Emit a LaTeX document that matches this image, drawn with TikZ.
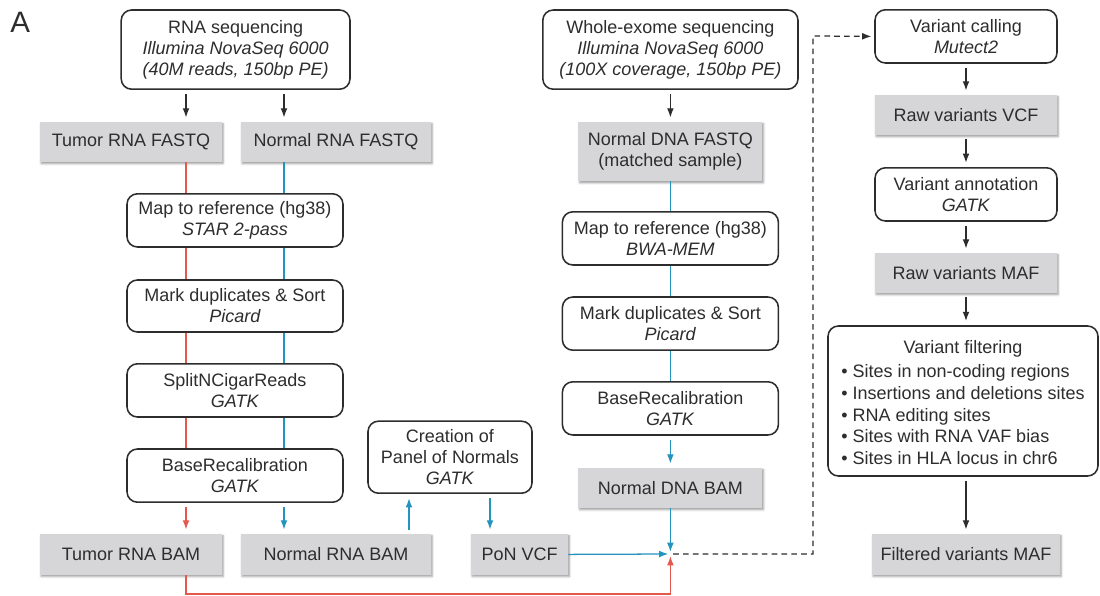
\documentclass[tikz,border=0pt]{standalone}
\usepackage{fontspec}
\setmainfont{Liberation Sans}
\usetikzlibrary{positioning,arrows.meta,shadows.blur}
\definecolor{ink}{RGB}{45,45,45}
\definecolor{boxgray}{RGB}{214,214,217}
\definecolor{tumorred}{RGB}{229,88,78}
\definecolor{normalblue}{RGB}{36,148,190}

\begin{document}
\begin{tikzpicture}[every node/.style={font=\fontsize{12.8}{15}\selectfont, text=ink},
  tool/.style={draw=ink, line width=1.1pt, rounded corners=0.26cm, fill=white, align=center, inner sep=0pt},
  file/.style={fill=boxgray, align=center, inner sep=0pt, blur shadow={shadow xshift=0.8pt, shadow yshift=-1.2pt, shadow blur radius=1.5pt, shadow opacity=40}},
  link/.style={line width=0.9pt},
  arr/.style={link, -{Latex[length=2.3mm,width=1.7mm]}, shorten <=3pt, shorten >=3pt},
  tumor/.style={link, tumorred},
  normal/.style={link, normalblue}]
  \useasboundingbox (0,0) rectangle (27.5,-14.9);
  \node[anchor=base west, inner sep=0pt, font=\fontsize{21}{21}\selectfont] (lab) at (0.25,-0.825) {A};

  % RNA-seq branch
  \node[tool, minimum width=5.72cm, minimum height=1.98cm] (rseq) at (5.89,-1.24) {RNA sequencing\\\textit{Illumina NovaSeq 6000}\\\textit{(40M reads, 150bp PE)}};
  \node[file, minimum width=4.55cm, minimum height=1.0cm] (tfq) at (3.275,-3.55) {Tumor RNA FASTQ};
  \node[file, minimum width=4.75cm, minimum height=1.0cm] (nfq) at (8.4,-3.55) {Normal RNA FASTQ};
  \node[tool, minimum width=5.4cm, minimum height=1.33cm] (map1) at (5.875,-5.51) {Map to reference (hg38)\\\textit{STAR 2-pass}};
  \node[tool, minimum width=5.4cm, minimum height=1.3cm] (dup1) at (5.875,-7.65) {Mark duplicates \& Sort\\\textit{Picard}};
  \node[tool, minimum width=5.4cm, minimum height=1.33cm] (split) at (5.875,-9.76) {SplitNCigarReads\\\textit{GATK}};
  \node[tool, minimum width=5.4cm, minimum height=1.33cm] (bqsr1) at (5.875,-11.89) {BaseRecalibration\\\textit{GATK}};
  \node[tool, minimum width=4.1cm, minimum height=1.8cm] (pon) at (11.25,-11.43) {Creation of\\Panel of Normals\\\textit{GATK}};
  \node[file, minimum width=4.55cm, minimum height=1.02cm] (tbam) at (3.275,-13.86) {Tumor RNA BAM};
  \node[file, minimum width=4.75cm, minimum height=1.02cm] (nbam) at (8.4,-13.86) {Normal RNA BAM};
  \node[file, minimum width=2.43cm, minimum height=1.02cm] (ponvcf) at (12.99,-13.86) {PoN VCF};

  % WES branch
  \node[tool, minimum width=6.38cm, minimum height=1.98cm] (wes) at (16.76,-1.24) {Whole-exome sequencing\\\textit{Illumina NovaSeq 6000}\\\textit{(100X coverage, 150bp PE)}};
  \node[file, minimum width=4.6cm, minimum height=1.48cm] (dfq) at (16.76,-3.79) {Normal DNA FASTQ\\(matched sample)};
  \node[tool, minimum width=5.4cm, minimum height=1.33cm] (map2) at (16.76,-5.96) {Map to reference (hg38)\\\textit{BWA-MEM}};
  \node[tool, minimum width=5.4cm, minimum height=1.33cm] (dup2) at (16.76,-8.09) {Mark duplicates \& Sort\\\textit{Picard}};
  \node[tool, minimum width=5.4cm, minimum height=1.33cm] (bqsr2) at (16.76,-10.21) {BaseRecalibration\\\textit{GATK}};
  \node[file, minimum width=4.6cm, minimum height=1.0cm] (dbam) at (16.76,-12.2) {Normal DNA BAM};

  % variant calling
  \node[tool, minimum width=4.55cm, minimum height=1.33cm] (vcall) at (24.15,-0.91) {Variant calling\\\textit{Mutect2}};
  \node[file, minimum width=4.55cm, minimum height=1.0cm] (rvcf) at (24.15,-2.875) {Raw variants VCF};
  \node[tool, minimum width=4.55cm, minimum height=1.33cm] (vann) at (24.15,-4.86) {Variant annotation\\\textit{GATK}};
  \node[file, minimum width=4.55cm, minimum height=1.0cm] (rmaf) at (24.15,-6.825) {Raw variants MAF};
  \node[tool, minimum width=6.75cm, minimum height=3.75cm, font=\fontsize{12.8}{15.6}\selectfont] (vfilt) at (24.075,-10.025) {\raisebox{-2.6pt}[\height][\depth]{%
    \begin{tabular}{@{}l@{}}\multicolumn{1}{@{}c@{}}{Variant filtering}\\[1.5pt]• Sites in non-coding regions\\• Insertions and deletions sites\\• RNA editing sites\\• Sites with RNA VAF bias\\• Sites in HLA locus in chr6\end{tabular}}};
  \node[file, minimum width=4.7cm, minimum height=1.02cm] (fmaf) at (24.15,-13.86) {Filtered variants MAF};

  \coordinate (rx) at (4.65,0);
  \coordinate (bx) at (7.1,0);
  \coordinate (ux) at (10.225,0);
  \coordinate (dx) at (12.25,0);
  \coordinate (jn) at (16.76,-13.85);
  \coordinate (rb) at (16.76,-14.85);
  \coordinate (dc) at (20.325,-0.9);

  \draw[arr, ink] (rseq.south -| rx) -- (tfq.north -| rx); \draw[arr, ink] (rseq.south -| bx) -- (nfq.north -| bx);
  \draw[tumor] (tfq.south -| rx) -- (map1.north -| rx); \draw[normal] (nfq.south -| bx) -- (map1.north -| bx);
  \draw[tumor] (map1.south -| rx) -- (dup1.north -| rx); \draw[normal] (map1.south -| bx) -- (dup1.north -| bx);
  \draw[tumor] (dup1.south -| rx) -- (split.north -| rx); \draw[normal] (dup1.south -| bx) -- (split.north -| bx);
  \draw[tumor] (split.south -| rx) -- (bqsr1.north -| rx); \draw[normal] (split.south -| bx) -- (bqsr1.north -| bx);
  \draw[arr, tumor] (bqsr1.south -| rx) -- (tbam.north -| rx); \draw[arr, normal] (bqsr1.south -| bx) -- (nbam.north -| bx);
  \draw[arr, normal] (nbam.north -| ux) -- (pon.south -| ux); \draw[arr, normal] (pon.south -| dx) -- (ponvcf.north -| dx);

  \draw[arr, ink] (wes) -- (dfq);
  \draw[normal] (dfq) -- (map2); \draw[normal] (map2) -- (dup2); \draw[normal] (dup2) -- (bqsr2);
  \draw[arr, normal] (bqsr2) -- (dbam);
  \draw[arr, normal, shorten <=0pt, shorten >=1.5pt] (dbam) -- (jn);
  \draw[arr, normal, shorten <=0pt, shorten >=1.5pt] (ponvcf.east) -- (jn);
  \draw[arr, tumor, shorten <=0pt, shorten >=1.5pt] (tbam.south -| rx) |- (rb) -- (jn);

  \draw[arr, ink, dash pattern=on 4pt off 3pt, shorten <=2pt, shorten >=2pt] (jn) -| (dc) -- (vcall.west);

  \draw[arr, ink] (vcall) -- (rvcf); \draw[arr, ink] (rvcf) -- (vann); \draw[arr, ink] (vann) -- (rmaf);
  \draw[arr, ink] (rmaf.south) -- (vfilt.north -| rmaf.south);
  \draw[arr, ink] (vfilt.south -| fmaf.north) -- (fmaf.north);
\end{tikzpicture}
\end{document}
